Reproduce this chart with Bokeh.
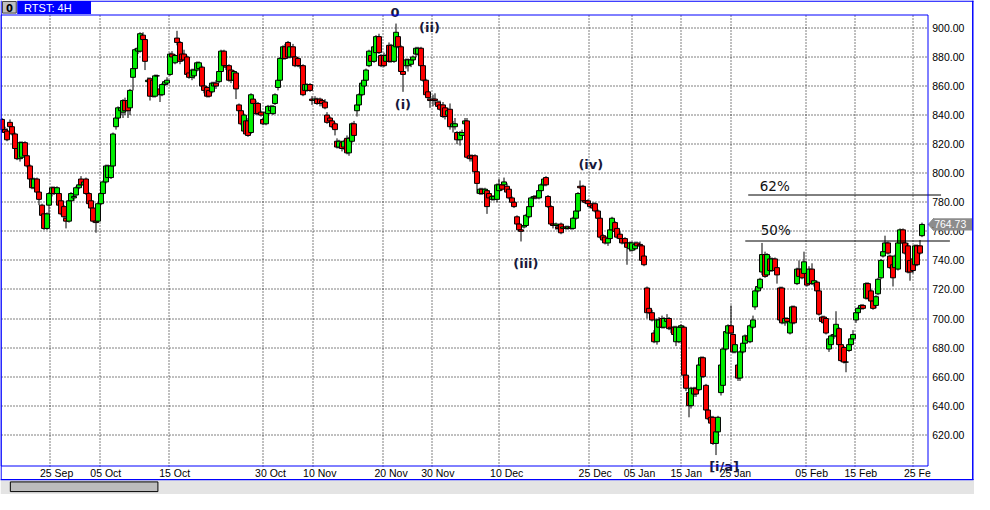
from bokeh.plotting import figure
from bokeh.models import (ColumnDataSource, Range1d, FixedTicker, NumeralTickFormatter,
                          Label, BoxAnnotation)
from bokeh.embed import file_html
from bokeh.resources import INLINE

# ---------------- data (4H bars) ----------------
opens = [837,830,829,835,832,827,817,810,811,821,812,805,796,790,796,787,778,772,762,778,
         786,790,786,786,781,777,769,767,781,783,785,790,796,792,796,786,781,776,767,767,
         779,786,794,797,797,805,832,838,843,842,850,850,845,866,872,884,884,895,892,863,
         865,864,853,867,858,854,861,862,868,882,876,893,890,882,882,880,869,866,867,871,
         872,873,860,859,857,856,860,862,863,870,884,874,874,871,864,869,847,843,829,836,
         836,828,851,848,848,842,837,834,841,843,841,848,859,864,879,887,890,880,887,880,
         879,874,874,857,857,861,851,850,851,851,850,849,840,838,836,834,822,818,821,818,
         824,814,822,834,843,847,854,860,864,874,881,877,883,894,881,881,877,888,888,877,
         887,894,887,870,874,874,875,878,882,882,886,874,864,856,851,851,851,849,847,847,
         845,840,844,832,832,828,823,826,834,836,812,812,812,801,786,789,786,788,786,782,
         782,782,788,792,792,791,789,783,780,770,765,761,763,764,770,777,783,784,783,788,
         792,797,784,777,765,764,763,765,762,763,762,763,762,769,774,791,791,781,781,779,
         778,779,774,769,757,756,752,755,761,766,762,758,755,755,752,748,747,748,752,751,
         750,743,721,707,704,690,684,694,700,694,698,700,694,694,684,684,694,694,661,649,
         640,648,652,651,668,673,654,637,632,632,614,622,649,654,679,690,695,689,677,668,
         659,677,683,688,684,694,708,719,721,732,744,730,741,733,741,735,721,721,697,700,
         690,697,708,724,734,734,731,731,724,734,724,725,719,701,701,700,679,682,688,688,
         693,682,680,670,678,682,686,699,704,707,709,714,724,719,712,709,717,728,743,746,
         752,743,737,735,734,752,761,752,750,740,741,737,750,750,757]
highs = [838,832,831,837,833,828,818,822,822,822,813,806,797,797,797,789,779,773,773,787,
         791,791,791,787,782,778,770,782,787,785,791,793,798,795,797,787,784,777,768,780,
         787,795,806,806,806,828,839,846,848,851,852,853,858,874,886,888,897,897,893,866,
         866,866,868,868,860,862,864,866,883,884,882,898,891,884,885,881,870,872,872,877,
         877,874,861,860,858,863,863,864,871,885,885,876,875,872,871,870,848,844,841,837,
         838,855,853,850,849,843,838,843,847,847,847,855,865,880,888,889,891,888,889,881,
         880,876,875,862,862,862,853,853,852,852,851,851,842,839,837,835,824,823,822,823,
         826,825,835,836,848,855,863,866,872,885,883,888,895,896,882,883,882,890,889,889,
         903,896,888,871,879,879,879,881,887,887,887,875,865,857,855,854,855,850,850,849,
         847,845,848,836,838,829,829,830,838,838,813,813,813,802,790,790,790,789,787,785,
         785,793,796,794,797,793,790,784,781,771,766,762,765,772,778,784,785,785,789,793,
         797,798,785,778,766,766,765,766,764,764,764,764,770,775,787,795,792,782,782,780,
         780,780,775,770,758,757,756,762,770,767,763,760,756,756,753,753,753,753,753,753,
         751,744,722,714,706,692,700,701,702,701,703,701,696,695,695,695,696,695,662,650,
         653,653,653,669,674,674,655,638,633,633,623,633,669,680,692,696,709,690,683,669,
         678,684,689,689,696,702,720,724,728,752,746,745,743,742,742,736,722,722,701,701,
         699,709,709,735,740,735,746,732,736,738,727,726,720,702,702,701,687,689,690,705,
         694,683,681,671,683,687,692,705,708,710,710,725,725,720,713,716,728,741,747,757,
         753,744,738,744,753,762,762,753,752,741,742,751,751,754,766]
lows = [828,824,822,830,826,816,809,808,810,811,804,795,789,789,786,778,770,761,761,772,
        784,785,785,777,771,769,762,766,780,781,784,789,791,790,785,778,774,766,759,766,
        778,785,793,796,796,804,830,836,840,838,840,838,840,857,870,882,883,890,871,860,
        850,852,852,866,849,853,860,861,867,879,875,888,875,877,877,867,865,864,865,870,
        871,859,855,852,852,855,859,858,862,869,873,871,863,862,863,851,842,833,828,826,
        825,827,847,840,840,839,833,833,840,842,840,847,857,863,878,878,879,879,879,873,
        873,872,853,855,856,856,847,848,847,846,846,844,834,834,831,826,817,817,815,816,
        813,812,821,822,839,846,853,859,863,873,876,876,882,882,873,873,876,876,876,876,
        886,886,869,856,872,870,873,877,880,881,873,863,853,851,845,846,847,845,843,838,
        837,838,830,828,830,820,819,825,832,810,808,808,800,786,785,785,784,772,782,781,
        781,780,787,788,791,786,782,779,776,764,760,753,762,763,769,776,782,782,782,787,
        791,791,776,764,762,761,761,758,760,761,761,761,761,768,773,789,780,779,778,776,
        775,773,768,755,753,751,750,754,760,759,755,754,751,750,737,746,746,747,749,749,
        739,736,700,703,698,683,682,693,693,693,697,692,690,688,681,683,692,660,650,632,
        638,646,646,650,666,659,636,630,627,613,606,618,647,653,678,689,689,676,676,657,
        657,676,682,684,683,693,706,718,720,730,728,729,732,732,732,724,698,696,695,697,
        689,690,696,723,728,727,730,722,723,723,722,718,702,697,696,689,677,681,686,687,
        681,670,669,663,677,681,685,697,702,706,706,713,713,711,706,707,716,727,742,745,
        744,734,722,733,733,751,751,744,731,726,731,736,736,744,756]
closes = [830,828,823,832,827,817,810,821,821,812,805,796,790,796,787,782,771,762,772,786,
          790,786,790,778,772,770,767,781,786,784,790,792,792,794,786,779,776,767,766,779,
          786,794,805,805,805,827,838,845,845,850,843,843,857,872,885,886,896,892,877,864,
          853,853,867,867,854,861,863,864,882,880,881,890,877,878,878,868,866,871,871,876,
          876,860,857,853,853,862,862,860,870,884,874,873,864,864,870,858,843,834,840,827,
          826,854,848,841,841,840,834,842,846,846,846,854,864,879,887,879,880,887,880,874,
          874,874,854,861,861,857,850,851,848,848,848,845,835,836,832,830,818,822,817,822,
          814,824,834,826,847,854,862,864,871,884,877,887,894,883,874,874,881,877,877,888,
          897,887,870,868,878,878,878,880,886,886,874,864,854,852,850,850,850,846,844,839,
          839,843,832,834,834,823,828,828,836,811,810,810,801,793,789,786,789,777,783,784,
          784,792,792,789,794,787,783,780,777,765,761,760,764,771,777,783,784,783,788,792,
          796,792,777,765,764,765,762,759,763,762,763,762,769,774,786,790,781,780,779,777,
          776,774,769,756,754,752,755,761,769,760,756,755,752,752,749,752,752,751,750,750,
          740,737,704,704,699,684,699,699,694,700,700,693,693,689,694,694,695,661,652,640,
          652,652,648,668,673,660,637,631,628,614,622,632,668,679,691,695,690,677,682,659,
          677,683,688,685,695,699,719,722,727,744,729,744,733,741,733,730,699,697,700,698,
          698,708,697,734,729,728,739,723,734,724,726,719,703,698,697,690,686,688,689,696,
          682,671,670,670,682,686,689,704,707,709,707,724,714,712,707,715,727,740,746,752,
          745,735,728,743,752,761,752,745,732,732,733,750,737,745,764.73]

date_labels = ["25 Sep", "05 Oct", "15 Oct", "30 Oct", "10 Nov", "20 Nov", "30 Nov", "10 Dec",
               "25 Dec", "05 Jan", "15 Jan", "25 Jan", "05 Feb", "15 Feb", "25 Fe"]
date_grid_bars = [19.2, 39.7, 67.7, 106.1, 126.1, 154.7, 174.5, 201.7, 238.5, 255.9, 275.9,
                  296.3, 326.5, 346.5, 370.3]
date_label_bars = [22, 42, 70, 109, 129, 158, 177, 205, 241, 259, 278, 298, 329, 349, 372]
price_ticks = list(range(620, 901, 20))

wave_labels = ["0", "(i)", "(ii)", "(iii)", "(iv)", "[i/a]"]
wave_x = [159.6, 162.8, 173.6, 212.8, 239.2, 293.4]
wave_y = [910.9, 847.2, 900.5, 737.9, 805.9, 598.2]

fib_names = ["62%", "50%"]
fib_levels = [785.0, 753.5]
fib_start = [303.2, 302.0]
fib_end = [381.6, 385.2]
fib_label_x = [314.0, 314.4]
fib_label_y = [791.5, 761.2]

last_price = closes[-1]


# ---------------- geometry helpers (reference-pixel -> data) ----------------
def dx(X):
    return (X - 2.0) / 2.5


def dy(Y):
    return 900.0 - (Y - 28.3) / 1.5


W, H = 974, 494
X0, X1, Y0, Y1 = dx(0), dx(990), dy(510), dy(0)
KX = W / (X1 - X0)          # canvas px per bar
KY = H / (Y1 - Y0)          # canvas px per price unit


def snap_x(x):
    # move a vertical hairline onto a pixel centre so it renders crisp
    px = (x - X0) * KX
    return X0 + (int(px) + 0.5) / KX


def snap_y(y):
    py = (Y1 - y) * KY
    return Y1 - (int(py) + 0.5) / KY


def edge_x(x):
    return X0 + round((x - X0) * KX) / KX


def edge_y(y):
    return Y1 - round((Y1 - y) * KY) / KY


PL, PR, PT, PB = dx(1), dx(943), dy(15), dy(481)   # plot-area edges in data units

n = len(closes)
xpos = [snap_x(i) for i in range(n)]
up = [c >= o for o, c in zip(opens, closes)]
src = ColumnDataSource(dict(
    x=xpos, high=highs, low=lows,
    top=[max(o, c) for o, c in zip(opens, closes)],
    bottom=[min(o, c) for o, c in zip(opens, closes)],
    color=["#00f000" if u else "#ff0000" for u in up],
))

p = figure(width=W, height=H, output_backend="svg", toolbar_location=None,
           x_range=Range1d(X0, X1), y_range=Range1d(Y0, Y1),
           x_axis_location="below", y_axis_location="right",
           min_border_left=0, min_border_right=0, min_border_top=0, min_border_bottom=0)
p.background_fill_color = "white"
p.border_fill_color = "white"
p.outline_line_color = None
p.xgrid.visible = False
p.ygrid.visible = False

# right price axis, pinned to the plot-area edge
p.yaxis.fixed_location = PR
p.yaxis.ticker = FixedTicker(ticks=price_ticks)
p.yaxis.formatter = NumeralTickFormatter(format="0.00")
p.yaxis.axis_line_color = None
p.yaxis.major_tick_line_color = None
p.yaxis.minor_tick_line_color = None
p.yaxis.major_tick_out = 0
p.yaxis.major_tick_in = 0
p.yaxis.major_label_standoff = 4
p.yaxis.major_label_text_font = "Liberation Sans"
p.yaxis.major_label_text_font_size = "10.5px"
p.yaxis.major_label_text_color = "black"

# bottom date axis, pinned to the plot-area edge
p.xaxis.fixed_location = PB
p.xaxis.ticker = FixedTicker(ticks=date_label_bars)
p.xaxis.major_label_overrides = {b: t for b, t in zip(date_label_bars, date_labels)}
p.xaxis.axis_line_color = None
p.xaxis.major_tick_line_color = None
p.xaxis.minor_tick_line_color = None
p.xaxis.major_tick_out = 0
p.xaxis.major_tick_in = 0
p.xaxis.major_label_standoff = 1
p.xaxis.major_label_text_font = "Liberation Sans"
p.xaxis.major_label_text_font_size = "10.5px"
p.xaxis.major_label_text_color = "black"

# dotted grid inside the plot area only (dots aligned to whole pixels)
gx = [snap_x(b) for b in date_grid_bars]
gy = [snap_y(t) for t in price_ticks]
p.segment(x0=gx, x1=gx, y0=[edge_y(PB)] * len(gx), y1=[edge_y(PT)] * len(gx),
          line_color="black", line_dash="1 2", line_width=1)
p.segment(x0=[edge_x(PL)] * len(gy), x1=[edge_x(PR)] * len(gy), y0=gy, y1=gy,
          line_color="black", line_dash="1 2", line_width=1)

# candles
p.segment(x0="x", y0="low", x1="x", y1="high", source=src, line_color="black", line_width=1)
p.vbar(x="x", width=2, width_units="screen", top="top", bottom="bottom", source=src,
       fill_color="color", line_color="black", line_width=1)

# fibonacci levels
p.segment(x0=fib_start, x1=fib_end, y0=[snap_y(v) for v in fib_levels],
          y1=[snap_y(v) for v in fib_levels], line_color="black", line_width=1)
for name, lx, ly in zip(fib_names, fib_label_x, fib_label_y):
    p.add_layout(Label(x=lx, y=ly, text=name, text_align="center", text_baseline="middle",
                       text_font="DejaVu Sans", text_font_size="13.5px", text_color="#111111"))

# wave labels
for t, x, y in zip(wave_labels, wave_x, wave_y):
    p.add_layout(Label(x=x, y=y, text=t, text_align="center", text_baseline="middle",
                       text_font="DejaVu Sans", text_font_style="bold", text_font_size="13px",
                       text_color="#18183a"))


def box(XA, YA, XB, YB, fill, line=None, lw=1):
    p.add_layout(BoxAnnotation(left=dx(XA), right=dx(XB), top=dy(YA), bottom=dy(YB),
                               fill_color=fill, fill_alpha=1.0,
                               line_color=line, line_width=lw, line_alpha=1.0 if line else 0.0))


# plot-area border
p.add_layout(BoxAnnotation(left=snap_x(PL), right=snap_x(PR), top=snap_y(PT), bottom=snap_y(PB),
                           fill_alpha=0.0, line_color="#0000ff", line_width=1, line_alpha=1.0))

# last price tag
tag_y0, tag_y1 = last_price + 4.2, last_price - 4.2
p.patch(x=[PR, dx(948.5), dx(948.5)], y=[last_price, tag_y0, tag_y1],
        fill_color="#8c8c8c", line_color="#8c8c8c")
p.add_layout(BoxAnnotation(left=dx(948), right=dx(988), top=tag_y0, bottom=tag_y1,
                           fill_color="#8c8c8c", fill_alpha=1.0, line_alpha=0.0))
p.add_layout(Label(x=dx(949), y=last_price, text="%.2f" % last_price, text_align="left",
                   text_baseline="middle", text_font="Liberation Sans", text_font_size="10.5px",
                   text_color="white"))

# window chrome: title bar, outer frame, scrollbar
box(17, 0, 92, 14, "#0000ff")
box(2, 1, 16, 13, "#c0c0c0", "#404040")
box(92, 0, 989, 1.2, "#0000ff")
box(987.5, 0, 989, 495, "#0000ff")
box(0, 0, 1.2, 495, "#0000ff")
box(0, 494, 989, 495.5, "#0000ff")
box(0, 495.5, 990, 510, "#e4e4e4")
box(10, 497, 160, 507, "#bcbcbc", "black")

p.add_layout(Label(x=dx(9), y=dy(7.5), text="0", text_align="center", text_baseline="middle",
                   text_font="DejaVu Sans", text_font_style="bold", text_font_size="10px",
                   text_color="black"))
p.add_layout(Label(x=dx(24), y=dy(7.5), text="RTST: 4H", text_align="left",
                   text_baseline="middle", text_font="Liberation Sans", text_font_size="11px",
                   text_color="white"))

open("out.html", "w").write(file_html(p, INLINE))
